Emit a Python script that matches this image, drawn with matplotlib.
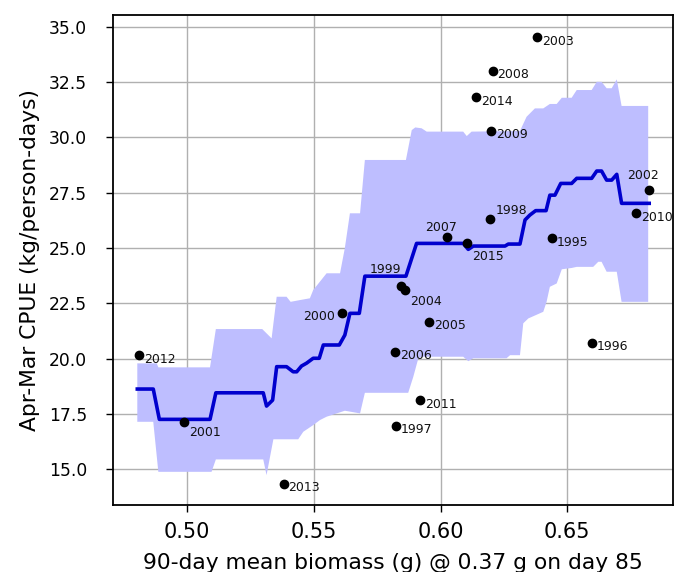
import numpy as np
import matplotlib
matplotlib.use("Agg")
import matplotlib.pyplot as plt

# ---- data ----
years = [1995, 1996, 1997, 1998, 1999, 2000, 2001, 2002, 2003, 2004, 2005,
         2006, 2007, 2008, 2009, 2010, 2011, 2012, 2013, 2014, 2015]
biomass = [0.6440, 0.6596, 0.5822, 0.6196, 0.5842, 0.5611, 0.4988, 0.6821,
           0.6379, 0.5859, 0.5955, 0.5820, 0.6024, 0.6205, 0.6199, 0.6770,
           0.5920, 0.4809, 0.5380, 0.6139, 0.6105]
cpue = [25.45, 20.72, 16.97, 26.31, 23.28, 22.08, 17.12, 27.63, 34.52, 23.10,
        21.67, 20.31, 25.48, 33.00, 30.29, 26.57, 18.13, 20.15, 14.35, 31.82,
        25.24]

med_x = [0.4803, 0.4866, 0.4890, 0.5090, 0.5113, 0.5300, 0.5313, 0.5337,
         0.5353, 0.5392, 0.5418, 0.5432, 0.5451, 0.5471, 0.5497, 0.5521,
         0.5537, 0.5600, 0.5622, 0.5642, 0.5679, 0.5701, 0.5863, 0.5905,
         0.6089, 0.6109, 0.6129, 0.6254, 0.6267, 0.6313, 0.6333, 0.6352,
         0.6375, 0.6416, 0.6431, 0.6451, 0.6474, 0.6517, 0.6537, 0.6596,
         0.6616, 0.6635, 0.6655, 0.6675, 0.6695, 0.6714, 0.6823]
med_y = [18.63, 18.63, 17.26, 17.26, 18.46, 18.46, 17.86, 18.13,
         19.64, 19.64, 19.41, 19.41, 19.67, 19.80, 20.02, 20.02,
         20.62, 20.62, 21.07, 22.05, 22.05, 23.73, 23.73, 25.21,
         25.21, 24.94, 25.09, 25.09, 25.18, 25.18, 26.27, 26.49,
         26.69, 26.69, 27.39, 27.39, 27.92, 27.92, 28.15, 28.15,
         28.48, 28.48, 28.07, 28.07, 28.33, 27.02, 27.02]

upper_x = [0.4803, 0.4880, 0.4886, 0.5090, 0.5113, 0.5296, 0.5333, 0.5353,
           0.5392, 0.5408, 0.5445, 0.5484, 0.5497, 0.5550, 0.5603, 0.5622,
           0.5642, 0.5682, 0.5701, 0.5863, 0.5886, 0.5900, 0.5925, 0.5945,
           0.6089, 0.6103, 0.6122, 0.6313, 0.6339, 0.6372, 0.6405, 0.6431,
           0.6458, 0.6478, 0.6517, 0.6537, 0.6596, 0.6616, 0.6635, 0.6655,
           0.6675, 0.6695, 0.6714, 0.6819]
upper_y = [19.79, 19.79, 19.61, 19.61, 21.34, 21.34, 20.92, 22.80,
           22.80, 22.57, 22.65, 22.73, 23.10, 23.86, 23.86, 25.00,
           26.57, 26.57, 28.98, 28.98, 30.33, 30.45, 30.41, 30.26,
           30.26, 30.06, 30.26, 30.29, 30.93, 31.31, 31.31, 31.51,
           31.51, 31.79, 31.79, 32.14, 32.14, 32.51, 32.51, 32.22,
           32.22, 32.62, 31.42, 31.42]

lower_x = [0.4803, 0.4866, 0.4886, 0.5096, 0.5113, 0.5300, 0.5313, 0.5340,
           0.5438, 0.5458, 0.5497, 0.5524, 0.5550, 0.5622, 0.5682, 0.5701,
           0.5872, 0.5892, 0.5912, 0.5925, 0.6089, 0.6109, 0.6129, 0.6260,
           0.6274, 0.6313, 0.6326, 0.6346, 0.6405, 0.6418, 0.6431, 0.6458,
           0.6478, 0.6517, 0.6537, 0.6602, 0.6622, 0.6635, 0.6655, 0.6695,
           0.6714, 0.6819]
lower_y = [17.15, 17.15, 14.89, 14.89, 15.45, 15.45, 14.74, 16.36,
           16.36, 16.70, 17.00, 17.23, 17.38, 17.65, 17.53, 18.46,
           18.46, 19.18, 20.02, 20.09, 20.09, 19.89, 20.02, 20.02,
           20.16, 20.16, 21.60, 21.82, 22.12, 22.57, 23.25, 23.40,
           24.04, 24.10, 24.15, 24.15, 24.38, 24.38, 23.93, 23.93,
           22.57, 22.57]

x_ticks = [0.50, 0.55, 0.60, 0.65]
y_ticks = [15.0, 17.5, 20.0, 22.5, 25.0, 27.5, 30.0, 32.5, 35.0]

# label offsets in pixels (dx, dy, ha)
default_off = (5, -4, "left")
label_off = {
    2001: (5, -10, "left"),
    2004: (5, -11, "left"),
    2015: (5, -14, "left"),
    2000: (-7, -4, "right"),
    1999: (1, 17, "right"),
    2007: (10, 10, "right"),
    1998: (5, 9, "left"),
    2002: (10, 14, "right"),
}

# ---- figure ----
fig = plt.figure(figsize=(6.83, 5.72), dpi=100)
ax = fig.add_axes([0.1654, 0.1171, 0.8200, 0.8567])

ax.fill(np.concatenate([upper_x, lower_x[::-1]]),
        np.concatenate([upper_y, lower_y[::-1]]),
        color=(0.745, 0.745, 1.0), lw=0, zorder=1)
ax.plot(med_x, med_y, color="#0000CD", lw=2.6, zorder=2)
ax.plot(biomass, cpue, "o", color="black", ms=6, zorder=3)

for yr, x, y in zip(years, biomass, cpue):
    dx, dy, ha = label_off.get(yr, default_off)
    ax.annotate(str(yr), (x, y), xytext=(dx, dy), textcoords="offset pixels",
                ha=ha, va="center", fontsize=9, color="#111111", zorder=4)

ax.set_xlim(0.4707, 0.6917)
ax.set_ylim(13.39, 35.53)
ax.set_xticks(x_ticks)
ax.set_xticklabels([f"{v:.2f}" for v in x_ticks])
ax.set_yticks(y_ticks)
ax.set_yticklabels([f"{v:.1f}" for v in y_ticks])
ax.tick_params(length=5, width=1)
ax.tick_params(axis="x", labelsize=15, pad=7)
ax.tick_params(axis="y", labelsize=12.3, pad=13.5)
ax.grid(True, color="#b0b0b0", lw=1.0)
ax.set_axisbelow(True)
for s in ax.spines.values():
    s.set_linewidth(1.3)

ax.set_xlabel("90-day mean biomass (g) @ 0.37 g on day 85", fontsize=15.7)
ax.set_ylabel("Apr-Mar CPUE (kg/person-days)", fontsize=15.7)
ax.xaxis.set_label_coords(0.5, -0.097)
ax.yaxis.set_label_coords(-0.130, 0.5)

fig.savefig("out.png", dpi=100)
